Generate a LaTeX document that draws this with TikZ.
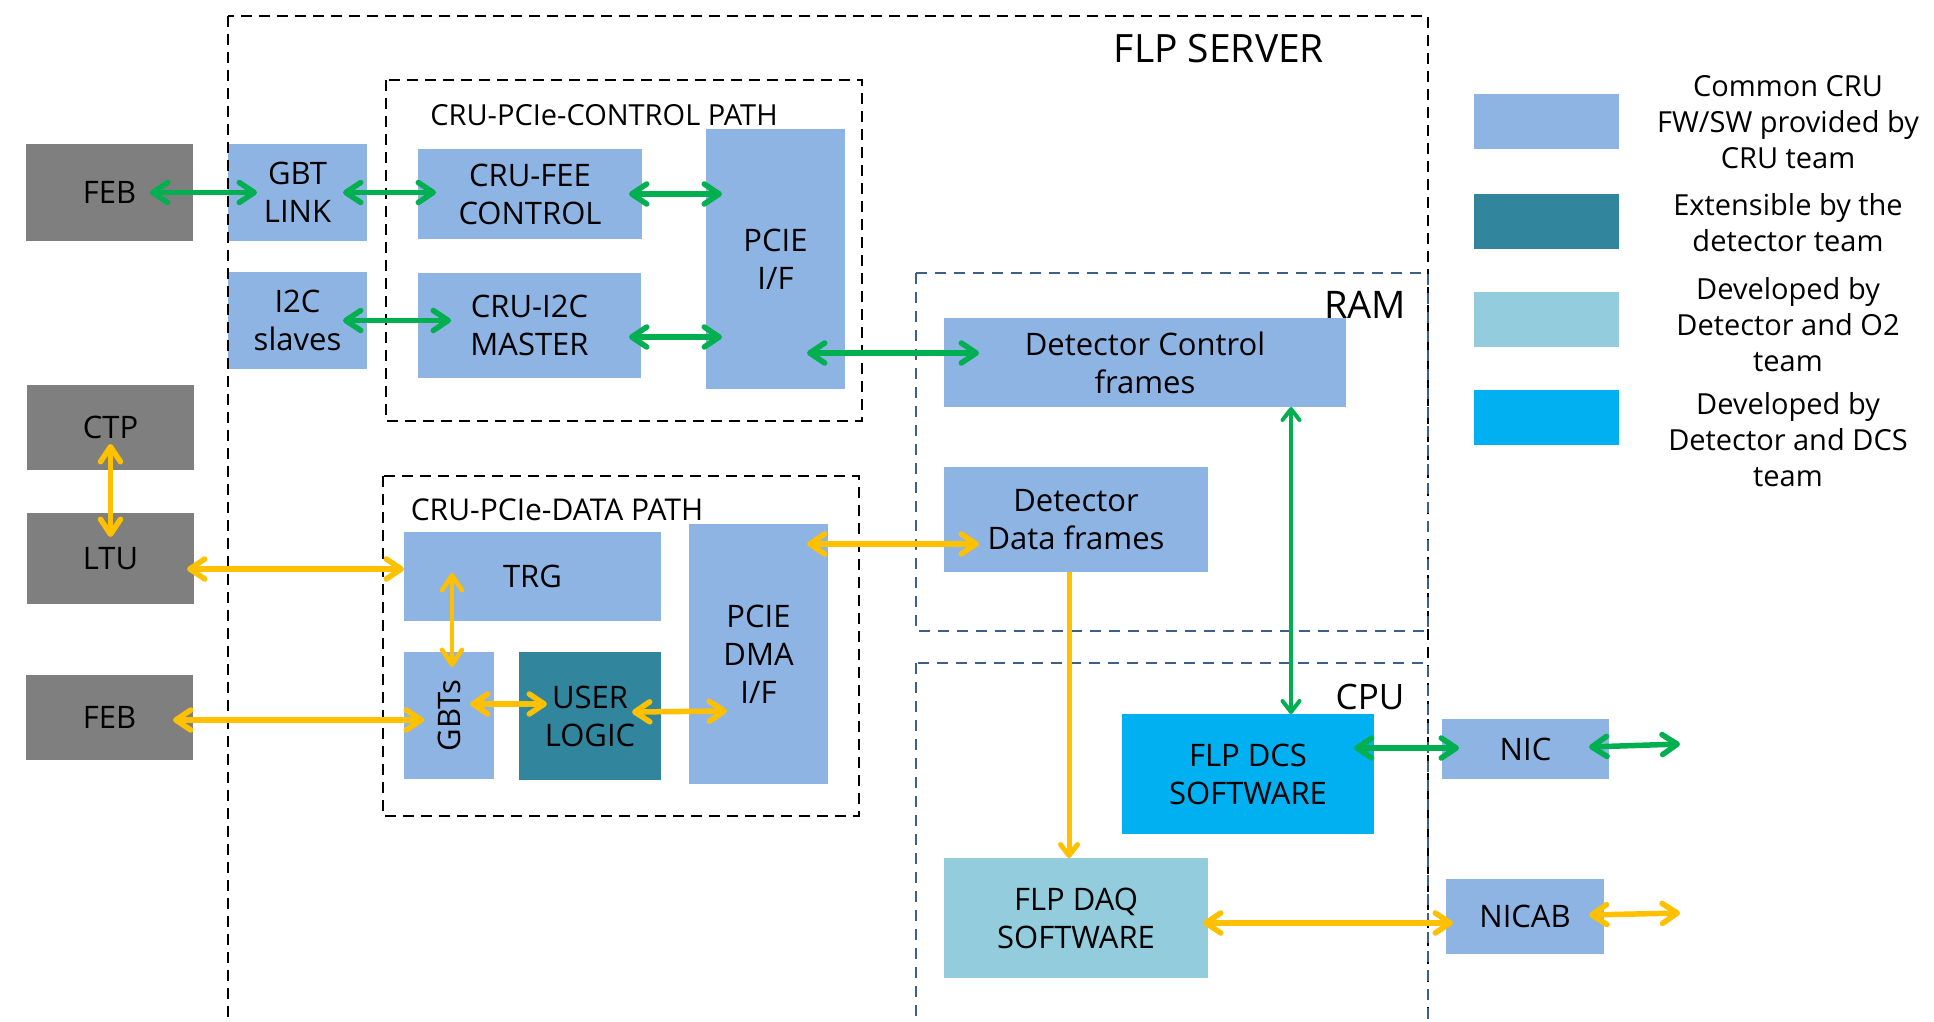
\documentclass[tikz,border=0pt]{standalone}
\usepackage{fontspec}
\usepackage{graphicx}
\setmainfont{Open Sans}
\usetikzlibrary{arrows.meta,calc}

\definecolor{cruBlue}{HTML}{8EB4E3}
\definecolor{detTeal}{HTML}{31859C}
\definecolor{daqTeal}{HTML}{93CDDD}
\definecolor{dcsBlue}{HTML}{00B0F0}
\definecolor{extGray}{HTML}{7F7F7F}
\definecolor{ctlGreen}{HTML}{00B050}
\definecolor{datYellow}{HTML}{FFC000}
\definecolor{memFrame}{HTML}{3E5F8A}

\tikzset{
  blk/.style={anchor=north west, inner sep=0pt, outer sep=0pt, align=center,
              font=\fontsize{31}{38}\selectfont},
  ext/.style={blk, fill=extGray},
  cru/.style={blk, fill=cruBlue},
  usr/.style={blk, fill=detTeal},
  daqsw/.style={blk, fill=daqTeal},
  dcssw/.style={blk, fill=dcsBlue},
  legendbox/.style={anchor=north west, inner sep=0pt, minimum width=145, minimum height=55},
  legendtext/.style={inner sep=0pt, align=center, font=\fontsize{29}{36}\selectfont},
  label/.style={inner sep=0pt},
  srvframe/.style={draw=black, line width=2.5pt, dash pattern=on 11pt off 7pt},
  pathframe/.style={draw=black, line width=2.8pt, dash pattern=on 11pt off 7pt},
  memframe/.style={draw=memFrame, line width=2.8pt, dash pattern=on 11pt off 8pt},
  barb/.tip={Straight Barb[length=15pt,width=20pt,round]},
  smallbarb/.tip={Straight Barb[length=11pt,width=17pt,round]},
  ctl/.style={draw=ctlGreen, line width=5.5pt, arrows={barb-barb}},
  ctlthin/.style={draw=ctlGreen, line width=4pt, arrows={smallbarb-smallbarb}},
  dat/.style={draw=datYellow, line width=5.5pt, arrows={barb-barb}},
  datthin/.style={draw=datYellow, line width=5pt, arrows={-smallbarb}},
}

\begin{document}
\begin{tikzpicture}[x=1pt, y=-1pt]
\useasboundingbox (0,0) rectangle (1934,1021);
\clip (0,0) rectangle (1934,1021);

% external boards
\node[ext, minimum width=167, minimum height=97] (feba) at (26,144) {FEB};
\node[ext, minimum width=167, minimum height=85] (ctp)  at (27,385) {CTP};
\node[ext, minimum width=167, minimum height=91] (ltu)  at (27,513) {LTU};
\node[ext, minimum width=167, minimum height=85] (febb) at (26,675) {FEB};

% control path blocks
\node[cru, minimum width=139, minimum height=97]  (gbt)    at (228,144) {GBT\\LINK};
\node[cru, minimum width=139, minimum height=97]  (i2c)    at (228,272) {I2C\\slaves};
\node[cru, minimum width=224, minimum height=90]  (fee)    at (418,149) {CRU-FEE\\CONTROL};
\node[cru, minimum width=223, minimum height=105] (master) at (418,273) {CRU-I2C\\MASTER};
\node[cru, minimum width=139, minimum height=260] (pcie)   at (706,129) {PCIE\\I/F};

% data path blocks
\node[cru, minimum width=257, minimum height=89]  (trg)  at (404,532) {TRG};
\node[cru, minimum width=90,  minimum height=127] (gbts) at (404,652) {\rotatebox{90}{GBTs}};
\node[usr, minimum width=142, minimum height=128] (user) at (519,652) {USER\\LOGIC};
\node[cru, minimum width=139, minimum height=260] (dma)  at (689,524) {PCIE\\DMA\\I/F};

% memory and software
\node[cru, minimum width=402, minimum height=89]  (dcf) at (944,318) {Detector Control\\frames};
\node[cru, minimum width=264, minimum height=105] (ddf) at (944,467) {Detector\\Data frames};
\node[dcssw, minimum width=252, minimum height=120] (dcs) at (1122,714) {FLP DCS\\SOFTWARE};
\node[daqsw, minimum width=264, minimum height=120] (daq) at (944,858) {FLP DAQ\\SOFTWARE};

% network cards
\node[cru, minimum width=167, minimum height=60] (nic)   at (1442,719) {NIC};
\node[cru, minimum width=158, minimum height=75] (nicab) at (1446,879) {NICAB};

% legend
\node[legendbox, fill=cruBlue] (lg1) at (1474,94)  {};
\node[legendbox, fill=detTeal] (lg2) at (1474,194) {};
\node[legendbox, fill=daqTeal] (lg3) at (1474,292) {};
\node[legendbox, fill=dcsBlue] (lg4) at (1474,390) {};
\node[legendtext] (lt1) at (1788,122) {Common CRU\\FW/SW provided by\\CRU team};
\node[legendtext] (lt2) at (1788,223) {Extensible by the\\detector team};
\node[legendtext] (lt3) at (1788,325) {Developed by\\Detector and O2\\team};
\node[legendtext] (lt4) at (1788,440) {Developed by\\Detector and DCS\\team};

% frames
\draw[srvframe]  (228,16) rectangle (1428,1060);
\draw[pathframe] (386,80) rectangle (862,421);
\draw[pathframe] (383,476) rectangle (859,816);
\draw[memframe]  (916,273) rectangle (1428,631);
\draw[memframe]  (916,663) rectangle (1428,1060);

% frame labels
\node[label, font=\fontsize{39}{46}\selectfont] (srvlabel) at (1219,49) {FLP SERVER};
\node[label, font=\fontsize{29}{36}\selectfont] (ctllabel) at (604,115) {CRU-PCIe-CONTROL PATH};
\node[label, font=\fontsize{30}{36}\selectfont] (datlabel) at (557,510) {CRU-PCIe-DATA PATH};
\node[label, font=\fontsize{38}{46}\selectfont] (ramlabel) at (1365,305) {RAM};
\node[label, font=\fontsize{35}{42}\selectfont] (cpulabel) at (1370,697) {CPU};

% helper points
\coordinate (nicout)   at (1680,744);
\coordinate (nicabout) at (1680,913);
\coordinate (v1) at ($(dcf.south)+(146,0)$);
\coordinate (v2) at ($(trg.south)+(-80.5,-48)$);
\coordinate (v3) at ($(ddf.south)+(-7,0)$);

% control links
\draw[ctl] ($(feba.east)+(-43,0)$) -- ($(gbt.west)+(29,0)$);
\draw[ctl] ($(gbt.east)+(-24,0)$) -- ($(gbt.east -| fee.west)+(18,0)$);
\draw[ctl] ($(fee.east)+(-13,0)$) -- ($(fee.east -| pcie.west)+(16,0)$);
\draw[ctl] ($(i2c.east)+(-24,0)$) -- ($(i2c.east -| master.west)+(33,0)$);
\draw[ctl] ($(master.east)+(-12,11.5)$) -- ($(master.east -| pcie.west)+(16,11.5)$);
\draw[ctl] ($(pcie.east)+(-38,94)$) -- ($(dcf.west)+(35,-9.5)$);
\draw[ctlthin] (v1) -- (v1 |- dcs.north);
\draw[ctl] ($(dcs.east)+(-20,-26)$) -- ($(nic.west)+(17,-1)$);
\draw[ctl] ($(nic.east)+(-20,-2)$) -- (nicout);

% data links
\draw[dat] ($(ctp.south)+(0,-26)$) -- ($(ltu.north)+(0,24)$);
\draw[dat] ($(ltu.east)+(-7,10.5)$) -- ($(trg.west)+(0,-7.5)$);
\draw[dat, line width=4.5pt] (v2) -- ($(v2 |- gbts.north)+(0,15)$);
\draw[dat] ($(febb.east)+(-20,2.5)$) -- ($(gbts.west)+(20,4.5)$);
\draw[dat] ($(gbts.east)+(-24,-11.5)$) -- ($(user.west)+(28,-12)$);
\draw[dat] ($(user.east)+(-29,-4)$) -- ($(dma.west)+(38,57)$);
\draw[dat] ($(dma.east)+(-21,-110)$) -- ($(ddf.west)+(35,24.5)$);
\draw[datthin] (v3) -- (v3 |- daq.north);
\draw[dat] ($(daq.east)+(-5,5)$) -- ($(nicab.west)+(7,6.5)$);
\draw[dat] ($(nicab.east)+(-15,-1.5)$) -- (nicabout);
\end{tikzpicture}
\end{document}
